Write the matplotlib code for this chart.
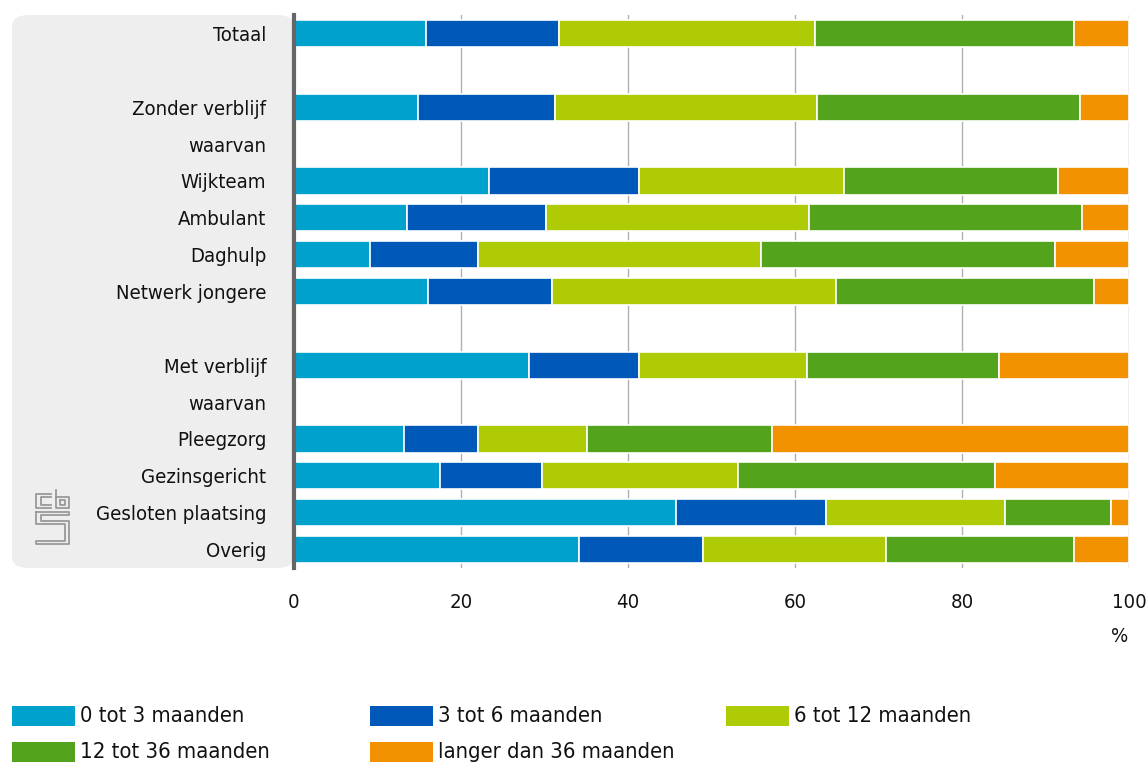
import numpy as np
import matplotlib.pyplot as plt
from matplotlib.patches import FancyBboxPatch, Rectangle
from matplotlib.lines import Line2D

plt.rcParams['font.family'] = ['DejaVu Sans']
plt.rcParams['font.stretch'] = 'condensed'

# Categories (top to bottom), empty strings are spacer rows
categories = ['Totaal', '', 'Zonder verblijf', 'waarvan', 'Wijkteam', 'Ambulant',
              'Daghulp', 'Netwerk jongere', '', 'Met verblijf', 'waarvan',
              'Pleegzorg', 'Gezinsgericht', 'Gesloten plaatsing', 'Overig']

series_names = ['0 tot 3 maanden', '3 tot 6 maanden', '6 tot 12 maanden',
                '12 tot 36 maanden', 'langer dan 36 maanden']

# percentages per category (None = no bar)
s0_3 = [15.8, None, 14.9, None, 23.4, 13.5, 9.1, 16.0, None, 28.1, None, 13.2, 17.5, 45.7, 34.1]
s3_6 = [15.9, None, 16.4, None, 17.9, 16.7, 12.9, 14.9, None, 13.2, None, 8.8, 12.2, 18.0, 14.9]
s6_12 = [30.7, None, 31.3, None, 24.6, 31.5, 33.9, 34.0, None, 20.1, None, 13.1, 23.5, 21.4, 21.9]
s12_36 = [31.0, None, 31.5, None, 25.6, 32.7, 35.2, 30.9, None, 23.0, None, 22.1, 30.8, 12.7, 22.5]
s36 = [6.6, None, 5.9, None, 8.5, 5.6, 8.9, 4.2, None, 15.6, None, 42.8, 16.0, 2.2, 6.6]

colors = ['#00A1CD', '#0058B8', '#AFCB05', '#53A31D', '#F39200']

fig = plt.figure(figsize=(11.48, 7.65), dpi=100)
W, H = 1148, 765

# grey label panel (behind the axes)
panel = FancyBboxPatch((12 / W, 1 - 568 / H), (294 - 12) / W, (568 - 15) / H,
                       boxstyle='round,pad=0,rounding_size=0.015',
                       transform=fig.transFigure, facecolor='#EEEEEE',
                       edgecolor='none', zorder=-5)
fig.patches.append(panel)

ax = fig.add_axes([294 / W, 1 - 568 / H, (1129 - 294) / W, (568 - 15) / H])
ax.patch.set_alpha(0)
ax.set_zorder(2)

y = np.arange(len(categories))
left = np.zeros(len(categories))
for vals, col in zip([s0_3, s3_6, s6_12, s12_36, s36], colors):
    v = np.array([0 if x is None else x for x in vals], dtype=float)
    ax.barh(y, v, left=left, height=0.74, color=col, edgecolor='white',
            linewidth=1.2, zorder=3)
    left += v

ax.set_ylim(len(categories) - 0.5, -0.5)
ax.set_xlim(0, 100)
ax.set_yticks(y)
ax.set_yticklabels(categories, fontsize=14.6, color='#111111')
ax.set_xticks([0, 20, 40, 60, 80, 100])
ax.tick_params(axis='y', length=0, pad=20)
ax.tick_params(axis='x', length=0, pad=18, labelsize=14.6, colors='#111111')
ax.grid(axis='x', color='#B0B0B0', linewidth=1, zorder=0)
for s in ['top', 'right', 'bottom']:
    ax.spines[s].set_visible(False)
ax.spines['left'].set_color('#666666')
ax.spines['left'].set_linewidth(3)
ax.spines['left'].set_zorder(5)

fig.text(1120 / W, 1 - 636 / H, '%', fontsize=14.6, ha='center', va='center', color='#111111')

# cbs logo (simple line drawing)
lx, ly = 36, 490
segs = [
    [(10, 0), (0, 0), (0, 14), (10, 14)], [(10, 3), (3, 3), (3, 11), (10, 11)],
    [(13, -4), (13, 14), (22, 14), (22, 3), (13, 3)], [(16, 6), (16, 11), (19, 11), (19, 6), (16, 6)],
    [(0, 18), (22, 18), (22, 21), (3, 21), (3, 27), (22, 27), (22, 50), (0, 50), (0, 47), (19, 47), (19, 30), (0, 30), (0, 18)],
]
for seg in segs:
    xs = [(lx + p[0] * 1.5) / W for p in seg]
    ys = [1 - (ly + 4 + p[1] * 1.0) / H for p in seg]
    fig.add_artist(Line2D(xs, ys, color='#999999', linewidth=1.3, transform=fig.transFigure, zorder=3))

# legend
leg_pos = [(12, 716), (370, 716), (726, 716), (12, 752), (370, 752)]
for (px, py), name, col in zip(leg_pos, series_names, colors):
    fig.patches.append(Rectangle((px / W, 1 - (py + 10) / H), 63 / W, 20 / H,
                                 transform=fig.transFigure, facecolor=col, edgecolor='none'))
    fig.text((px + 68) / W, 1 - py / H, name, fontsize=15.8, va='center', ha='left', color='#111111')

fig.savefig('out.png', dpi=100)
